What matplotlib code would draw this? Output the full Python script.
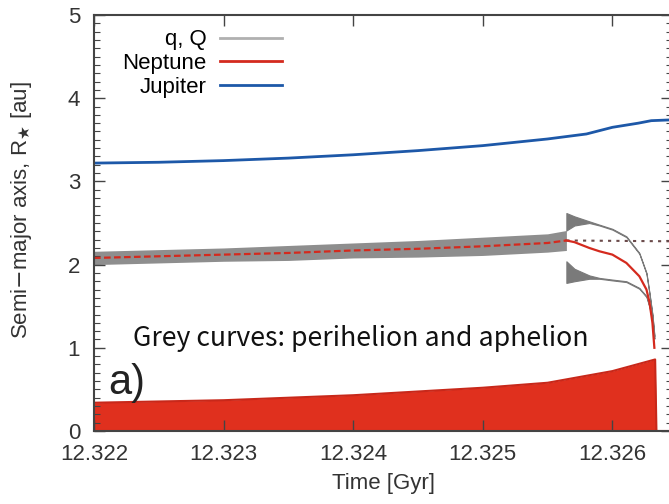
import numpy as np
import matplotlib.pyplot as plt

# time axis in Gyr
t_jup = [12.322, 12.3225, 12.323, 12.3235, 12.324, 12.3245, 12.325, 12.3255,
         12.3258, 12.326, 12.3262, 12.3263, 12.32646]
a_jup = [3.22, 3.23, 3.25, 3.28, 3.32, 3.37, 3.43, 3.51,
         3.57, 3.65, 3.70, 3.73, 3.74]

# Neptune before the split, with the q/Q band around it
t_pre = [12.322, 12.3225, 12.323, 12.3235, 12.324, 12.3245, 12.325, 12.3255, 12.325645]
a_nep_pre = [2.08, 2.10, 2.12, 2.14, 2.17, 2.19, 2.22, 2.26, 2.29]
q_pre = [2.00, 2.02, 2.04, 2.05, 2.08, 2.09, 2.11, 2.15, 2.17]
Q_pre = [2.16, 2.18, 2.20, 2.23, 2.26, 2.29, 2.33, 2.37, 2.41]

# after the split
t_post = [12.325645, 12.325707, 12.325822, 12.3259, 12.326, 12.326108,
          12.326208, 12.326263, 12.326286, 12.326309, 12.326324]
a_nep_post = [2.29, 2.27, 2.20, 2.16, 2.12, 2.02, 1.86, 1.70, 1.55, 1.30, 1.00]
Q_out = [2.62, 2.58, 2.52, 2.48, 2.43, 2.34, 2.14, 1.90, 1.66, 1.40, 1.15]
Q_in = [2.41, 2.47, 2.50, 2.47, 2.42, 2.33, 2.13, 1.89, 1.65, 1.39, 1.14]
q_in = [2.04, 1.95, 1.87, 1.84, 1.82, 1.80, 1.72, 1.62, 1.50, 1.32, 1.12]
q_out = [1.78, 1.80, 1.83, 1.83, 1.81, 1.79, 1.71, 1.61, 1.49, 1.31, 1.11]

# unperturbed Neptune orbit (dotted)
t_dot = [12.325645, 12.32646]
a_dot = [2.29, 2.28]

# red area at the bottom
t_fill = [12.322, 12.323, 12.324, 12.325, 12.3255, 12.326, 12.32633, 12.32634, 12.32646]
h_fill = [0.34, 0.37, 0.43, 0.52, 0.58, 0.72, 0.86, 0.0, 0.0]

grey = "#7a7a7a"
red = "#d42a1e"
blue = "#1d58a8"

plt.rcParams['font.family'] = ['Liberation Sans', 'DejaVu Sans']

fig = plt.figure(figsize=(6.69, 5.04), dpi=100)
ax = fig.add_axes([94 / 669, 73 / 504, 578 / 669, 416 / 504])

ax.fill_between(t_fill, 0, h_fill, color="#e0301e", lw=0)
ax.plot(t_fill, h_fill, color="#c8281a", lw=1.5)

ax.fill_between(t_pre, q_pre, Q_pre, color=grey, lw=0, alpha=0.85)
ax.fill_between(t_post, Q_in, Q_out, color=grey, lw=0.8, edgecolor=grey)
ax.fill_between(t_post, q_out, q_in, color=grey, lw=0.8, edgecolor=grey)

ax.plot(t_dot, a_dot, color="#6a4a4a", ls=(0, (1.5, 2.5)), lw=1.5)
ax.plot(t_pre, a_nep_pre, color=red, lw=1.6, ls=(0, (3, 1.5)))
ax.plot(t_post, a_nep_post, color=red, lw=1.6)
ax.plot(t_jup, a_jup, color=blue, lw=2.0)

# legend handles
ax.plot([], [], color="#b0b0b0", lw=2, label="q, Q")
ax.plot([], [], color=red, lw=2, label="Neptune")
ax.plot([], [], color=blue, lw=2, label="Jupiter")
h, l = ax.get_legend_handles_labels()
ax.legend(h[-3:], l[-3:], loc="upper left", bbox_to_anchor=(0.024, 1.0),
          frameon=False, markerfirst=False, fontsize=16, labelspacing=0.12,
          handlelength=2.8, handletextpad=0.6, borderaxespad=0.25)

ax.set_xlim(12.322, 12.32646)
ax.set_ylim(0, 5)
ax.set_xticks([12.322, 12.323, 12.324, 12.325, 12.326])
ax.set_xticklabels(["12.322", "12.323", "12.324", "12.325", "12.326"])
ax.set_yticks([0, 1, 2, 3, 4, 5])
ax.set_yticks(np.arange(0, 5.01, 0.1), minor=True)
ax.tick_params(which="both", direction="in", colors="#444444", labelcolor="#333333",
               labelsize=16, top=True, right=True)
ax.tick_params(which="major", length=8, width=1.0)
ax.tick_params(which="minor", length=4, width=0.8)
ax.tick_params(axis="x", pad=9)
ax.tick_params(axis="y", pad=10)
for s in ax.spines.values():
    s.set_color("#444444")
    s.set_linewidth(1.5)

ax.set_xlabel("Time [Gyr]", fontsize=16, color="#333333", labelpad=6)
fig.text(22 / 669, 1 - 210 / 504, r"Semi$-$major axis, R$_\bigstar$ [au]",
         rotation=90, fontsize=16, color="#333333", ha="center", va="center")

ax.text(12.32211, 0.58, "a)", fontsize=30, color="#222222", va="center", ha="left")
fig.text(133 / 669, 1 - 338 / 504, "Grey curves: perihelion and aphelion",
         fontsize=19.2, fontweight="light", family=["Noto Sans CJK SC", "DejaVu Sans"],
         color="#111111", va="center", ha="left")

fig.savefig("out.png", dpi=100)
